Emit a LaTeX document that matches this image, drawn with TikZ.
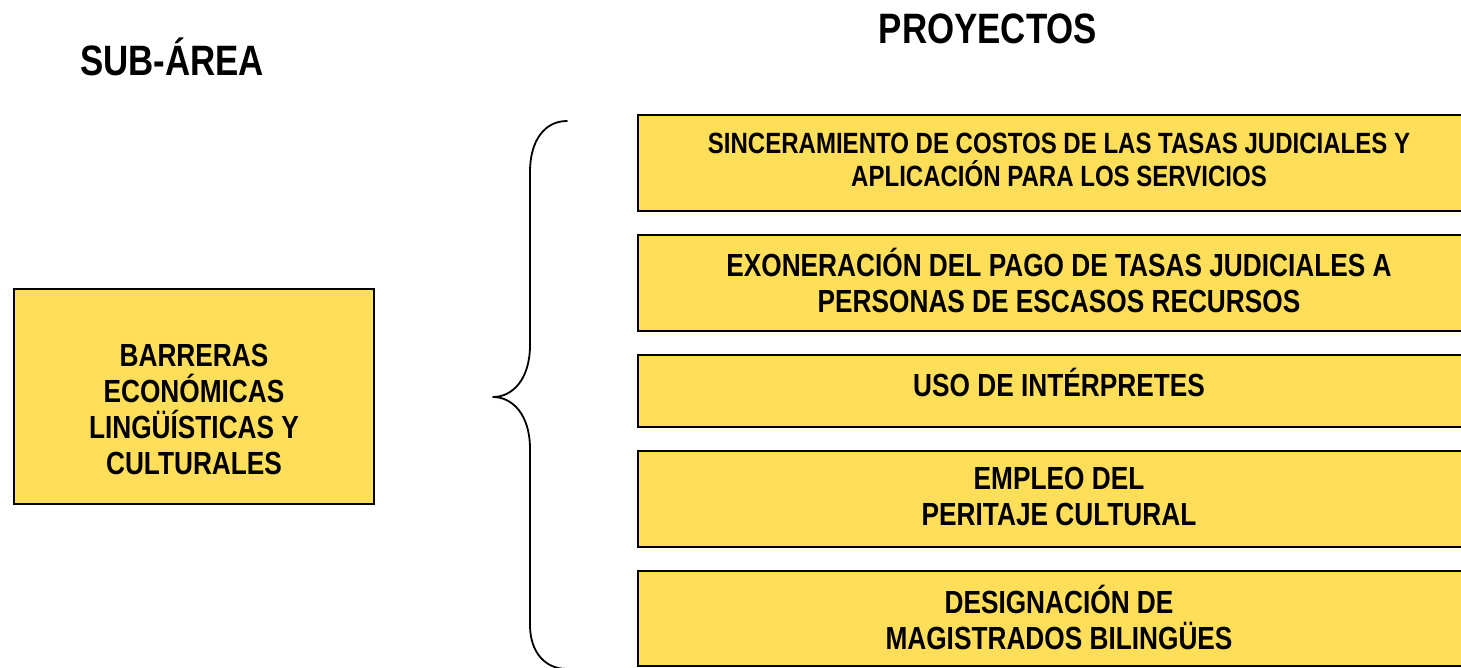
\documentclass[tikz,border=0pt]{standalone}
\usepackage{fontspec}
\newfontfamily\nar[FakeStretch=0.82]{Liberation Sans}
\definecolor{boxyellow}{RGB}{255,222,89}
\begin{document}
\begin{tikzpicture}[x=1pt,y=-1pt,
  ybox/.style={draw=black,line width=1.6pt,fill=boxyellow,rectangle,inner sep=0pt},
  btext/.style={inner sep=0pt,align=center,font=\nar\bfseries\fontsize{32}{36}\selectfont},
  stext/.style={inner sep=0pt,align=center,font=\nar\bfseries\fontsize{29.3}{33}\selectfont},
  title/.style={inner sep=0pt,font=\nar\bfseries\fontsize{42.5}{48}\selectfont},
  bracestyle/.style={line width=1.8pt,line cap=round,line join=round}]
\clip (0,0) rectangle (1461,667);
\fill[white] (0,0) rectangle (1461,667);
\node[title] (sub) at (172,57) {SUB-ÁREA};
\node[title] (proy) at (988,29) {PROYECTOS};
\node[ybox,minimum width=360pt,minimum height=215pt] (left) at (194,396.5) {};
\node[btext] (tleft) at ([yshift=-13pt]left.center)
  {BARRERAS\\ECONÓMICAS\\LINGÜÍSTICAS Y\\CULTURALES};
\node[ybox,minimum width=842pt,minimum height=96pt] (p1) at (1059,163) {};
\node[stext] (t1) at ([yshift=3.5pt]p1.center)
  {SINCERAMIENTO DE COSTOS DE LAS TASAS JUDICIALES Y\\APLICACIÓN PARA LOS SERVICIOS};
\node[ybox,minimum width=842pt,minimum height=96pt] (p2) at (1059,283) {};
\node[btext] (t2) at ([yshift=3pt]p2.center)
  {EXONERACIÓN DEL PAGO DE TASAS JUDICIALES A\\PERSONAS DE ESCASOS RECURSOS};
\node[ybox,minimum width=842pt,minimum height=72pt] (p3) at (1059,391) {};
\node[btext] (t3) at ([yshift=9pt]p3.center) {USO DE INTÉRPRETES};
\node[ybox,minimum width=842pt,minimum height=96pt] (p4) at (1059,499) {};
\node[btext] (t4) at ([yshift=3pt]p4.center) {EMPLEO DEL\\PERITAJE CULTURAL};
\node[ybox,minimum width=842pt,minimum height=95pt] (p5) at (1059,618.5) {};
\node[btext] (t5) at ([yshift=1.5pt]p5.center) {DESIGNACIÓN DE\\MAGISTRADOS BILINGÜES};
\coordinate (btop) at (567,121);
\coordinate (btip) at (493,397);
\coordinate (bbot) at (567,669);
\draw[bracestyle] (btop) .. controls (545,121) and (530,140) .. (530,172)
  -- (530,345) .. controls (530,380) and (512,397) .. (btip)
  .. controls (512,397) and (530,414) .. (530,449)
  -- (530,625) .. controls (530,652) and (545,669) .. (bbot);
\end{tikzpicture}
\end{document}
